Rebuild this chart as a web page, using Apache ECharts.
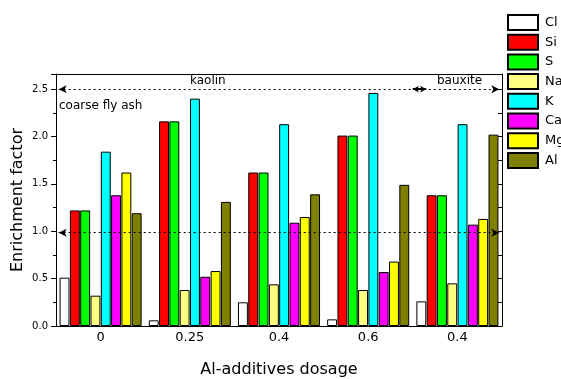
<!DOCTYPE html>
<html>
<head>
<meta charset="utf-8">
<script src="https://cdn.jsdelivr.net/npm/echarts@6/dist/echarts.min.js"></script>
<style>
  html, body { margin: 0; padding: 0; background: #fff; }
  #area { width: 561px; height: 379px; }
</style>
</head>
<body>
<div id="area"></div>
<script>
const categories = ['0', '0.25', '0.4', '0.6', '0.4'];
const elements = ['Cl', 'Si', 'S', 'Na', 'K', 'Ca', 'Mg', 'Al'];
const colors = ['#FFFFFF', '#FF0000', '#00FF00', '#FFFF80', '#00FFFF', '#FF00FF', '#FFFF00', '#808000'];
// one array per element, one value per dosage group
const Cl = [0.51, 0.06, 0.25, 0.07, 0.26];
const Si = [1.22, 2.16, 1.62, 2.01, 1.38];
const S  = [1.22, 2.16, 1.62, 2.01, 1.38];
const Na = [0.32, 0.38, 0.44, 0.38, 0.45];
const K  = [1.84, 2.40, 2.13, 2.46, 2.13];
const Ca = [1.38, 0.52, 1.09, 0.57, 1.07];
const Mg = [1.62, 0.58, 1.15, 0.68, 1.13];
const Al = [1.19, 1.31, 1.39, 1.49, 2.02];
const values = [Cl, Si, S, Na, K, Ca, Mg, Al];
const refLevel = 0.985;
const regionLevel = 2.5;

const font = 'DejaVu Sans';
const dotted = { color: '#000', type: [2, 3], width: 1 };

let series = elements.map(function (name, i) {
  return {
    name: name,
    type: 'bar',
    data: values[i],
    barGap: '4%',
    barCategoryGap: '8%',
    itemStyle: { color: colors[i], borderColor: '#000', borderWidth: 1 }
  };
});

// annotation lines drawn on a hidden value axis spanning the five groups
series.push({
  type: 'line',
  xAxisIndex: 2,
  data: [],
  silent: true,
  markLine: {
    silent: true,
    symbol: ['arrow', 'arrow'],
    symbolSize: [6, 8],
    label: { show: false },
    lineStyle: dotted,
    data: [
      [{ coord: [0.03, refLevel] }, { coord: [4.97, refLevel] }],
      [{ coord: [0.03, regionLevel] }, { coord: [3.98, regionLevel], symbol: 'none' }],
      [{ coord: [4.0, regionLevel], symbolSize: [5, 6], lineStyle: { type: 'solid', width: 2 } }, { coord: [4.15, regionLevel], symbolSize: [5, 6] }],
      [{ coord: [4.18, regionLevel], symbol: 'none' }, { coord: [4.97, regionLevel] }]
    ]
  }
});

let option = {
  animation: false,
  textStyle: { fontFamily: font },
  grid: { left: 56, right: 59, top: 74, bottom: 53, outerBoundsMode: 'none', containLabel: false },
  legend: {
    orient: 'vertical',
    left: 502,
    top: 9,
    itemWidth: 30,
    itemHeight: 15,
    itemGap: 2.7,
    icon: 'rect',
    data: elements,
    textStyle: { fontFamily: font, fontSize: 13, lineHeight: 15, color: '#000', padding: [0, 0, 0, 2] }
  },
  xAxis: [
    {
      type: 'category',
      data: categories,
      name: 'Al-additives dosage',
      nameLocation: 'middle',
      nameGap: 36,
      nameTextStyle: { fontSize: 16, color: '#000' },
      axisLine: { lineStyle: { color: '#000' } },
      axisTick: { length: 4, lineStyle: { color: '#000' } },
      axisLabel: { fontSize: 13, color: '#000', margin: 5 }
    },
    {
      type: 'category',
      position: 'top',
      data: categories,
      axisLine: { onZero: false, lineStyle: { color: '#000' } },
      axisTick: { inside: true, length: 4, lineStyle: { color: '#000' } },
      axisLabel: { show: false }
    },
    {
      type: 'value',
      min: 0,
      max: 5,
      show: false
    }
  ],
  yAxis: [
    {
      type: 'value',
      min: 0,
      max: 2.66,
      interval: 0.5,
      name: 'Enrichment factor',
      nameLocation: 'middle',
      nameGap: 30,
      nameMoveOverlap: false,
      nameTextStyle: { fontSize: 16, color: '#000' },
      axisLine: { show: true, lineStyle: { color: '#000' } },
      axisTick: { show: true, length: 5, lineStyle: { color: '#000' } },
      minorTick: { show: true, splitNumber: 2, length: 3, lineStyle: { color: '#000' } },
      axisLabel: { fontSize: 10, color: '#000', showMaxLabel: false, formatter: function (v) { return v.toFixed(1); } },
      splitLine: { show: false }
    },
    {
      type: 'value',
      position: 'right',
      min: 0,
      max: 2.66,
      interval: 0.25,
      axisLine: { show: true, onZero: false, lineStyle: { color: '#000' } },
      axisTick: { show: true, inside: true, length: 4, lineStyle: { color: '#000' } },
      axisLabel: { show: false },
      splitLine: { show: false }
    }
  ],
  graphic: [
    { type: 'text', left: 190, top: 75, style: { text: 'kaolin', font: '12px "DejaVu Sans"', fill: '#000' } },
    { type: 'text', left: 437, top: 75, style: { text: 'bauxite', font: '12px "DejaVu Sans"', fill: '#000' } },
    { type: 'text', left: 59, top: 100, style: { text: 'coarse fly ash', font: '12px "DejaVu Sans"', fill: '#000' } }
  ],
  series: series
};

let myChart = echarts.init(document.getElementById('area'));
myChart.setOption(option);
window.addEventListener('resize', function () {
  myChart.resize();
}, false);
</script>
</body>
</html>
